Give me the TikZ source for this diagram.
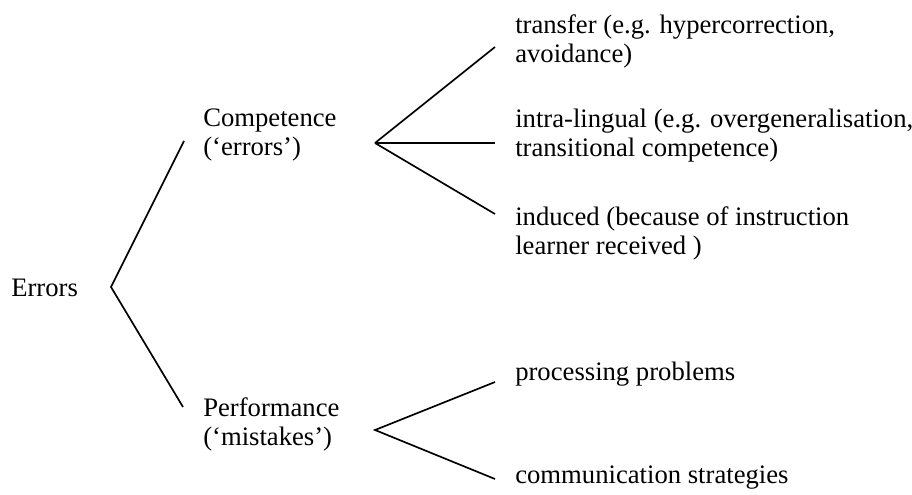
\documentclass[tikz,border=0pt]{standalone}
\usepackage{fontspec}
\setmainfont{Liberation Serif}
\usetikzlibrary{positioning}
\tikzset{
  lbl/.style={anchor=base west,inner sep=0pt,align=left,font=\fontsize{20}{21.75}\selectfont},
  branch/.style={draw=black,line width=1.25pt},
}
\begin{document}
\begin{tikzpicture}[x=0.75pt,y=-0.75pt]
\useasboundingbox (0,0) rectangle (912,495);
% two-line labels sit on the baseline of their last line
\node[lbl] (err) at (11,296) {Errors};
\node[lbl] (comp) at (203,156) {Competence\\(‘errors’)};
\node[lbl] (perf) at (203,445) {Performance\\(‘mistakes’)};
\node[lbl] (transf) at (515,63) {transfer (e.g. hypercorrection,\\avoidance)};
\node[lbl] (intra) at (515,157) {intra-lingual (e.g. overgeneralisation,\\transitional competence)};
\node[lbl] (induc) at (515,254) {induced (because of instruction\\learner received )};
\node[lbl] (proc) at (515,380) {processing problems};
\node[lbl] (comm) at (515,483) {communication strategies};
% fork points
\coordinate (e0) at (111,287);
\coordinate (e1) at (184,141);
\coordinate (e2) at (183,407);
\coordinate (c0) at (375,143);
\coordinate (c1) at (495,47);
\coordinate (c2) at (495,143);
\coordinate (c3) at (495,214);
\coordinate (p0) at (375,430);
\coordinate (p1) at (495,382);
\coordinate (p2) at (495,479);
\draw[branch] (e1) -- (e0) -- (e2);
\draw[branch] (c0) -- (c1);
\draw[branch] (c0) -- (c2);
\draw[branch] (c0) -- (c3);
\draw[branch] (p1) -- (p0) -- (p2);
\end{tikzpicture}
\end{document}
